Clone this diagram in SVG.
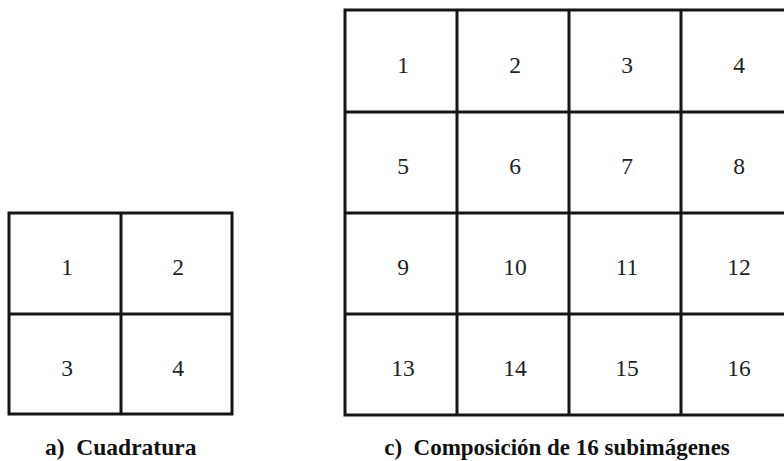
<svg xmlns="http://www.w3.org/2000/svg" width="784" height="461" viewBox="0 0 784 461">
<style>
.g{fill:none;stroke:#151515;stroke-width:3}
.n{font-family:"Liberation Serif",serif;font-size:23.5px;fill:#222;text-anchor:middle}
.c{font-family:"Liberation Serif",serif;font-size:23.5px;font-weight:bold;fill:#111}
</style>
<rect width="784" height="461" fill="#fff"/>
<g id="quad">
<rect class="g" x="9" y="213" width="223" height="201"/>
<line class="g" x1="121" y1="213" x2="121" y2="414"/>
<line class="g" x1="9" y1="314" x2="232" y2="314"/>
<text class="n" x="67" y="275">1</text>
<text class="n" x="178" y="275">2</text>
<text class="n" x="67" y="376">3</text>
<text class="n" x="178" y="376">4</text>
<text class="c" x="45" y="455">a)&#160; Cuadratura</text>
</g>
<g id="comp">
<rect class="g" x="345" y="10" width="450" height="405"/>
<line class="g" x1="457" y1="10" x2="457" y2="415"/>
<line class="g" x1="569" y1="10" x2="569" y2="415"/>
<line class="g" x1="681" y1="10" x2="681" y2="415"/>
<line class="g" x1="345" y1="112" x2="795" y2="112"/>
<line class="g" x1="345" y1="213" x2="795" y2="213"/>
<line class="g" x1="345" y1="314" x2="795" y2="314"/>
<text class="n" x="403" y="73">1</text>
<text class="n" x="515" y="73">2</text>
<text class="n" x="627" y="73">3</text>
<text class="n" x="739" y="73">4</text>
<text class="n" x="403" y="174">5</text>
<text class="n" x="515" y="174">6</text>
<text class="n" x="627" y="174">7</text>
<text class="n" x="739" y="174">8</text>
<text class="n" x="403" y="275">9</text>
<text class="n" x="515" y="275">10</text>
<text class="n" x="627" y="275">11</text>
<text class="n" x="739" y="275">12</text>
<text class="n" x="403" y="376">13</text>
<text class="n" x="515" y="376">14</text>
<text class="n" x="627" y="376">15</text>
<text class="n" x="739" y="376">16</text>
<text class="c" x="557" y="455" text-anchor="middle" style="font-size:23px">c)&#160; Composición de 16 subimágenes</text>
</g>
</svg>
